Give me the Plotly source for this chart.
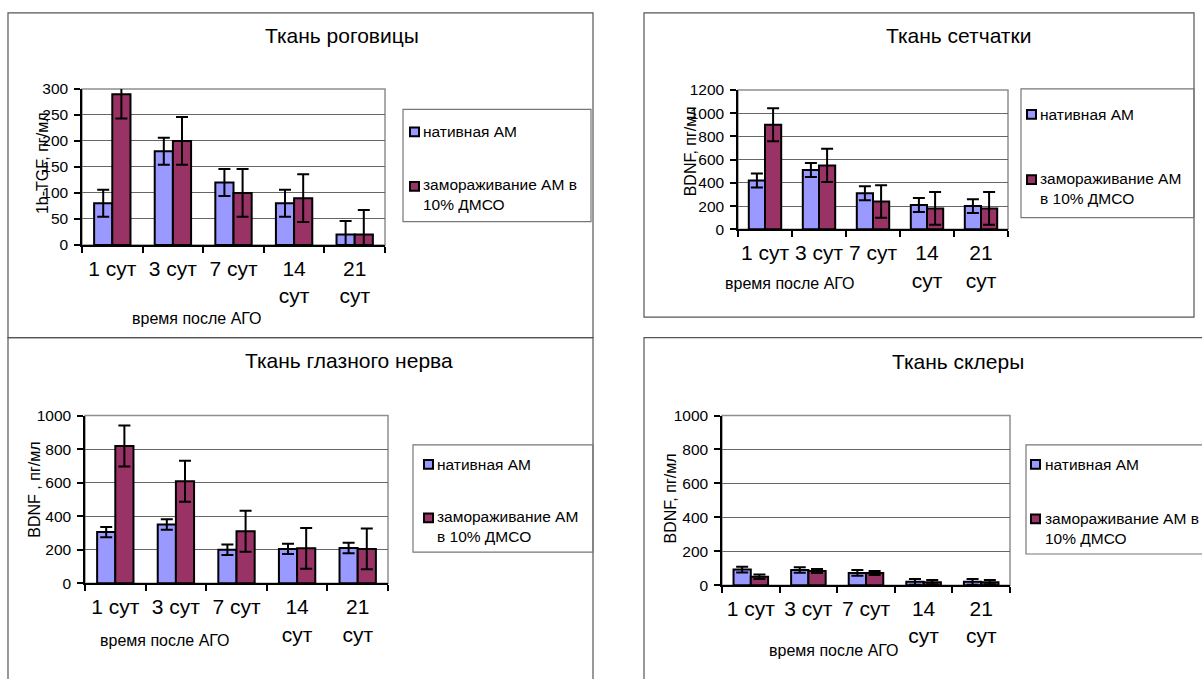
import plotly.graph_objects as go

W, H = 1202, 679

categories = ["1 сут", "3 сут", "7 сут", "14<br>сут", "21<br>сут"]

name_native = "нативная АМ"

# Panel 1: cornea
cornea_title = "Ткань роговицы"
cornea_ytitle = "1b-TGF, пг/мл"
cornea_native = [80, 180, 120, 80, 20]
cornea_native_err = [26, 26, 26, 26, 26]
cornea_frozen = [290, 200, 100, 90, 20]
cornea_frozen_err = [47, 46, 46, 46, 47]
cornea_frozen_name = "замораживание АМ в<br>10% ДМСО"

# Panel 2: retina
retina_title = "Ткань сетчатки"
retina_ytitle = "BDNF, пг/мл"
retina_native = [420, 510, 310, 210, 200]
retina_native_err = [60, 60, 60, 60, 60]
retina_frozen = [900, 550, 240, 180, 180]
retina_frozen_err = [142, 143, 140, 141, 141]
retina_frozen_name = "замораживание АМ<br>в 10% ДМСО"

# Panel 3: optic nerve
nerve_title = "Ткань глазного нерва"
nerve_ytitle = "BDNF , пг/мл"
nerve_native = [305, 350, 200, 205, 210]
nerve_native_err = [30, 31, 31, 31, 31]
nerve_frozen = [818, 608, 310, 208, 205]
nerve_frozen_err = [122, 122, 122, 122, 122]
nerve_frozen_name = "замораживание АМ<br>в 10% ДМСО"

# Panel 4: sclera
sclera_title = "Ткань склеры"
sclera_ytitle = "BDNF, пг/мл"
sclera_native = [92, 90, 72, 20, 20]
sclera_native_err = [17, 16, 17, 17, 17]
sclera_frozen = [50, 84, 72, 18, 18]
sclera_frozen_err = [13, 12, 12, 12, 12]
sclera_frozen_name = "замораживание АМ в<br>10% ДМСО"

xtitle = "время после АГО"

COL_NAT = "#9999FF"
COL_FRZ = "#993366"
FONT = "Arial, Liberation Sans, sans-serif"


def fx(p):
    return p / W


def fy(p):
    return 1 - p / H


panels = [
    dict(title=cornea_title, ytitle=cornea_ytitle, nat=cornea_native, nat_err=cornea_native_err,
         frz=cornea_frozen, frz_err=cornea_frozen_err, frz_name=cornea_frozen_name,
         yr=[0, 300], dt=50, px=(82, 385), py=(82, 242),
         tpos=(342, 27), ytpos=(42, 158), xtpos=(197, 317),
         box=(8, 4, 593, 337), lbox=(403, 103, 591, 218),
         leg=dict(ix=410, tx=421, y1=126, y2a=182, y2b=199)),
    dict(title=retina_title, ytitle=retina_ytitle, nat=retina_native, nat_err=retina_native_err,
         frz=retina_frozen, frz_err=retina_frozen_err, frz_name=retina_frozen_name,
         yr=[0, 1200], dt=200, px=(738, 1008), py=(83, 226),
         tpos=(958, 27), ytpos=(690, 146), xtpos=(790, 282),
         box=(644, 4, 1194, 316), lbox=(1021, 82, 1194, 214),
         leg=dict(ix=1027, tx=1038, y1=108, y2a=175, y2b=193)),
    dict(title=nerve_title, ytitle=nerve_ytitle, nat=nerve_native, nat_err=nerve_native_err,
         frz=nerve_frozen, frz_err=nerve_frozen_err, frz_name=nerve_frozen_name,
         yr=[0, 1000], dt=200, px=(85, 388), py=(417, 589),
         tpos=(349, 361), ytpos=(35, 493), xtpos=(165, 648),
         box=(8, 337, 593, 690), lbox=(413, 447, 593, 557),
         leg=dict(ix=424, tx=435, y1=467, y2a=522, y2b=540)),
    dict(title=sclera_title, ytitle=sclera_ytitle, nat=sclera_native, nat_err=sclera_native_err,
         frz=sclera_frozen, frz_err=sclera_frozen_err, frz_name=sclera_frozen_name,
         yr=[0, 1000], dt=200, px=(722, 1010), py=(417, 591),
         tpos=(958, 362), ytpos=(670, 502), xtpos=(834, 658),
         box=(644, 337, 1210, 690), lbox=(1026, 447, 1210, 559),
         leg=dict(ix=1031, tx=1043, y1=467, y2a=523, y2b=542)),
]

fig = go.Figure()
layout = dict(
    width=W, height=H, autosize=False,
    margin=dict(l=0, r=0, t=0, b=0, pad=0),
    paper_bgcolor="white", plot_bgcolor="white",
    barmode="group", bargap=0.4, bargroupgap=0,
    showlegend=False,
    font=dict(family=FONT, color="black", size=15),
)
shapes = []
annotations = []


def swatch(x0, yc, color):
    s = 9
    return dict(type="rect", xref="paper", yref="paper", x0=fx(x0), x1=fx(x0 + s),
                y0=fy(yc + s / 2), y1=fy(yc - s / 2), fillcolor=color,
                line=dict(color="black", width=2), layer="above")


for i, p in enumerate(panels):
    k = "" if i == 0 else str(i + 1)
    xa, ya = "x" + k, "y" + k
    fig.add_trace(go.Bar(
        x=categories, y=p["nat"], name=name_native, xaxis=xa, yaxis=ya,
        marker=dict(color=COL_NAT, line=dict(color="black", width=2)),
        error_y=dict(type="data", array=p["nat_err"], visible=True, color="black", thickness=2, width=6),
    ))
    fig.add_trace(go.Bar(
        x=categories, y=p["frz"], name=p["frz_name"], xaxis=xa, yaxis=ya,
        marker=dict(color=COL_FRZ, line=dict(color="black", width=2)),
        error_y=dict(type="data", array=p["frz_err"], visible=True, color="black", thickness=2, width=6),
    ))
    layout["xaxis" + k] = dict(
        domain=[fx(p["px"][0]), fx(p["px"][1])], anchor=ya, type="category",
        tickson="boundaries", ticks="outside", ticklen=6, tickwidth=1.5, tickcolor="black",
        showline=True, linecolor="black", linewidth=1.5, showgrid=False, zeroline=False,
        tickangle=0,
        tickfont=dict(size=21, family=FONT, color="black"), ticklabelstandoff=4,
        fixedrange=True,
    )
    layout["yaxis" + k] = dict(
        domain=[fy(p["py"][1]), fy(p["py"][0])], anchor=xa, range=p["yr"], dtick=p["dt"],
        ticks="outside", ticklen=6, tickwidth=1.5, tickcolor="black",
        showline=True, linecolor="black", linewidth=1.5, showgrid=True, gridcolor="#666666",
        gridwidth=1, zeroline=False, tickfont=dict(size=15.5, family=FONT, color="black"),
        ticklabelstandoff=3, fixedrange=True,
    )
    # plot-area border (gray)
    shapes.append(dict(type="rect", xref=xa + " domain", yref=ya + " domain", x0=0, x1=1, y0=0, y1=1,
                       line=dict(color="#8f8f8f", width=1.5), layer="below"))
    # panel outer frame
    bx0, by0, bx1, by1 = p["box"]
    shapes.append(dict(type="rect", xref="paper", yref="paper", x0=fx(bx0), x1=fx(bx1),
                       y0=fy(by1), y1=fy(by0), line=dict(color="#555555", width=1.2)))
    # legend frame and entries
    lx0, ly0, lx1, ly1 = p["lbox"]
    shapes.append(dict(type="rect", xref="paper", yref="paper", x0=fx(lx0), x1=fx(lx1),
                       y0=fy(ly1), y1=fy(ly0), line=dict(color="#777777", width=1.2)))
    L = p["leg"]
    shapes.append(swatch(L["ix"], L["y1"], COL_NAT))
    shapes.append(swatch(L["ix"], L["y2a"], COL_FRZ))
    annotations.append(dict(text=name_native, x=fx(L["tx"]), y=fy(L["y1"]), xref="paper", yref="paper",
                            showarrow=False, xanchor="left", yanchor="middle", align="left",
                            font=dict(size=15.5, family=FONT, color="black")))
    annotations.append(dict(text=p["frz_name"], x=fx(L["tx"]), y=fy((L["y2a"] + L["y2b"]) / 2),
                            xref="paper", yref="paper", showarrow=False, xanchor="left",
                            yanchor="middle", align="left",
                            font=dict(size=15.5, family=FONT, color="black")))
    annotations.append(dict(text=p["title"], x=fx(p["tpos"][0]), y=fy(p["tpos"][1]), xref="paper",
                            yref="paper", showarrow=False, xanchor="center", yanchor="middle",
                            font=dict(size=21, family=FONT, color="black")))
    annotations.append(dict(text=p["ytitle"], x=fx(p["ytpos"][0]), y=fy(p["ytpos"][1]), xref="paper",
                            yref="paper", showarrow=False, xanchor="center", yanchor="middle",
                            textangle=-90, font=dict(size=16, family=FONT, color="black")))
    annotations.append(dict(text=xtitle, x=fx(p["xtpos"][0]), y=fy(p["xtpos"][1]), xref="paper",
                            yref="paper", showarrow=False, xanchor="center", yanchor="middle",
                            font=dict(size=16, family=FONT, color="black")))

layout["shapes"] = shapes
layout["annotations"] = annotations
fig.update_layout(**layout)
fig.write_html(
    "out.html",
    config={"displayModeBar": False},
    post_script="document.body.style.margin='0';document.body.style.overflow='hidden';",
)
